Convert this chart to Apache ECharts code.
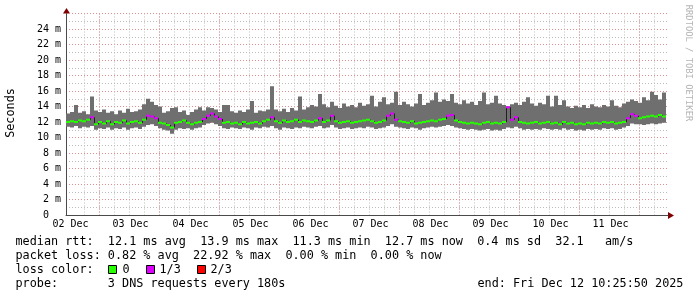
<!DOCTYPE html>
<html><head><meta charset="utf-8">
<script src="https://cdn.jsdelivr.net/npm/echarts@6/dist/echarts.min.js"></script>
<style>html,body{margin:0;padding:0;background:#fff;}#c{width:697px;height:297px;}</style>
</head><body><div id="c"></div>
<script>
// ---- data (ms; one column = 1.6 h) ----
const stepHours = 1.6;
const minVals = [
11.4,11.3,11.5,11.2,11.4,11.3,11.5,11.0,11.2,11.1,
11.3,11.0,11.2,11.1,11.3,11.0,11.2,11.3,11.1,11.4,
11.6,11.7,11.5,11.2,11.0,10.9,10.5,11.0,11.2,11.1,
11.2,11.0,11.2,11.3,11.6,11.8,11.9,11.7,11.5,11.2,
11.1,11.3,11.2,11.1,11.3,11.2,11.0,11.3,11.2,11.4,
11.3,11.5,11.2,11.0,11.3,11.2,11.1,11.3,11.2,11.4,
11.3,11.2,11.4,11.5,11.2,11.3,11.6,11.3,11.1,11.2,
11.3,11.1,11.2,11.3,11.2,11.4,11.3,11.1,11.2,11.3,
11.5,11.7,11.4,11.3,11.2,11.1,11.3,11.2,11.0,11.2,
11.3,11.4,11.3,11.4,11.5,11.6,11.5,11.3,11.2,11.1,
11.0,11.1,11.0,10.9,11.0,11.1,10.9,11.0,10.9,11.1,
11.3,11.2,11.4,11.2,11.0,11.1,11.0,11.1,11.0,11.2,
11.1,11.0,11.1,11.0,11.2,11.0,11.1,10.9,11.0,10.9,
11.1,11.0,11.1,11.0,11.2,11.1,11.2,11.0,11.1,11.3,
11.5,11.8,11.7,11.7,11.6,11.7,11.8,11.7,11.8,11.9];
const maxVals = [
13.1,13.3,14.2,13.2,13.4,13.0,15.3,13.5,13.3,13.6,
13.2,13.4,13.0,13.5,13.2,13.7,13.3,13.4,13.6,14.3,
15.0,14.6,14.2,14.0,13.2,13.4,13.8,13.9,13.3,13.5,
12.9,13.3,13.6,13.9,13.5,13.9,13.8,13.6,13.3,14.2,
14.2,13.4,13.2,13.5,13.3,13.6,14.7,13.2,13.5,13.4,
13.6,16.6,13.6,13.4,13.7,13.3,13.8,13.5,15.3,13.6,
13.9,14.2,14.0,15.6,14.3,13.9,14.6,14.1,13.8,14.4,
14.0,14.2,13.9,14.5,14.1,14.3,15.4,14.0,14.6,15.2,
14.3,14.5,15.9,14.2,14.6,14.3,14.0,14.4,15.6,14.2,
14.5,14.8,15.8,14.6,14.9,14.7,15.6,14.5,14.3,14.8,
14.4,14.6,14.2,14.7,15.8,14.3,14.5,15.4,14.4,14.2,
14.0,14.3,14.5,14.2,14.6,15.2,14.4,14.1,14.5,14.3,
15.4,14.0,15.4,14.2,14.8,14.0,13.8,14.1,13.9,14.2,
13.8,14.3,14.0,13.9,14.2,14.0,14.8,14.1,13.9,14.4,
14.6,14.9,14.7,14.5,15.2,14.8,15.9,15.5,14.9,15.8];
const medVals = [
12.0,12.1,12.0,12.2,12.1,12.3,12.6,11.7,12.0,11.8,
12.1,11.7,12.0,11.9,12.2,11.8,12.0,12.1,11.9,12.3,
12.8,12.7,12.5,11.9,11.8,11.6,11.3,11.9,12.0,12.2,
11.9,11.7,11.9,12.0,12.4,12.8,13.1,12.7,12.4,11.9,
12.0,11.8,11.9,11.7,12.0,11.8,11.9,12.0,11.8,12.1,
12.3,12.6,12.1,11.9,12.2,12.0,12.1,12.3,12.0,12.2,
12.1,12.0,12.2,12.5,12.0,12.2,12.8,12.1,11.9,12.0,
12.1,11.9,12.0,12.1,12.2,12.3,12.1,11.9,12.0,12.2,
12.8,13.1,12.3,12.1,12.0,11.9,12.1,11.8,11.9,12.0,
12.1,12.2,12.1,12.3,12.4,12.8,12.9,12.2,12.0,11.9,
11.8,11.9,11.8,11.7,11.9,12.0,11.8,11.9,11.8,12.0,
13.9,12.3,12.6,12.0,11.9,11.8,11.9,12.0,11.8,11.9,
12.0,11.8,11.9,11.7,12.0,11.8,11.9,11.7,11.8,11.7,
11.9,11.8,11.9,11.8,12.0,11.9,12.0,11.8,11.9,12.0,
12.5,13.0,12.8,12.5,12.6,12.7,12.8,12.7,12.9,12.7];
const lossVals = [
0,0,0,0,0,0,1,0,0,0,
0,0,0,0,0,0,0,0,0,0,
1,1,1,0,0,0,0,0,0,0,
0,0,0,0,1,1,1,1,1,0,
0,0,0,0,0,0,0,0,0,0,
0,1,0,0,0,0,0,0,0,0,
0,0,0,1,0,0,1,0,0,0,
0,0,0,0,0,0,0,0,0,0,
1,1,1,0,0,0,0,0,0,0,
0,0,0,0,0,1,1,0,0,0,
0,0,0,0,0,0,0,0,0,0,
1,1,1,0,0,0,0,0,0,0,
0,0,0,0,0,0,0,0,0,0,
0,0,0,0,0,0,0,0,0,0,
1,1,1,0,0,0,0,0,0,0];
const dayLabels = ['02 Dec','03 Dec','04 Dec','05 Dec','06 Dec','07 Dec','08 Dec','09 Dec','10 Dec','11 Dec'];
const yTickLabels = ['0','2 m','4 m','6 m','8 m','10 m','12 m','14 m','16 m','18 m','20 m','22 m','24 m'];
const lossLabels = ['0','1/3','2/3'];
const lossColors = ['#26ff00','#dd00ff','#ff0000'];
const yAxisTitle = 'Seconds';
const statRtt = 'median rtt:  12.1 ms avg  13.9 ms max  11.3 ms min  12.7 ms now  0.4 ms sd  32.1   am/s';
const statLoss = 'packet loss: 0.82 % avg  22.92 % max  0.00 % min  0.00 % now';
const lossColorTitle = 'loss color:';
const probeText = 'probe:       3 DNS requests every 180s';
const endText = 'end: Fri Dec 12 10:25:50 2025';
const watermark = 'RRDTOOL / TOBI OETIKER';

// ---- chart ----
const MONO = '"DejaVu Sans Mono", "Liberation Mono", monospace';
const minorColor = '#bdbdbd';
const majorColor = '#e28e8e';
const axisColor = '#4a4a4a';
const arrowColor = '#800000';
const smokeColor = '#6f6f6f';

const data = minVals.map((v, i) => [i * stepHours, v, maxVals[i], medVals[i], lossVals[i]]);

function renderItem(params, api) {
  const i = params.dataIndex;
  const t = api.value(0);
  const lo = api.value(1), hi = api.value(2), med = api.value(3), loss = api.value(4);
  const a = api.coord([t, hi]);
  const b = api.coord([t + stepHours, lo]);
  const m1 = api.coord([t, med]);
  const m2 = api.coord([t + stepHours, med]);
  const children = [{
    type: 'rect',
    shape: { x: a[0], y: a[1], width: b[0] - a[0], height: b[1] - a[1] },
    style: { fill: smokeColor }
  }];
  if (i > 0) {
    const p = api.coord([t, medVals[i - 1]]);
    children.push({ type: 'line', shape: { x1: m1[0] + 0.5, y1: p[1], x2: m1[0] + 0.5, y2: m1[1] },
      style: { stroke: '#202020', lineWidth: 1 } });
  }
  children.push({ type: 'rect', shape: { x: m1[0], y: m1[1] - 1, width: m2[0] - m1[0], height: 2 },
    style: { fill: lossColors[loss] } });
  return { type: 'group', children };
}

const chart = echarts.init(document.getElementById('c'), null, { renderer: 'canvas', width: 697, height: 297 });
const hiddenY = (g) => ({ gridIndex: g, type: 'value', min: 0, max: 1, show: false });
const dash = [1, 2];
const option = {
  animation: false,
  backgroundColor: '#ffffff',
  grid: [
    { left: 66, right: 29, top: 13.5, bottom: 82, outerBoundsMode: 'none' },
    { left: 84, right: 43, top: 13.5, bottom: 82, outerBoundsMode: 'none' },
    { left: 99, right: 58, top: 13.5, bottom: 82, outerBoundsMode: 'none' },
    { left: 70.5, right: 86.5, top: 13.5, bottom: 82, outerBoundsMode: 'none' }
  ],
  xAxis: [
    { gridIndex: 0, type: 'value', min: 0, max: 240.8,
      axisLine: { show: true, lineStyle: { color: axisColor, width: 1 } },
      axisTick: { show: false }, axisLabel: { show: false }, splitLine: { show: false } },
    { gridIndex: 1, type: 'value', min: 0, max: 228, interval: 6,
      axisLine: { show: false }, axisTick: { show: false }, axisLabel: { show: false },
      splitLine: { show: true, lineStyle: { color: minorColor, type: dash, width: 1 } } },
    { gridIndex: 2, type: 'value', min: 0, max: 216, interval: 24,
      axisLine: { show: false }, axisTick: { show: false }, axisLabel: { show: false },
      splitLine: { show: true, lineStyle: { color: majorColor, type: dash, width: 1 } } },
    { gridIndex: 3, type: 'value', min: 0, max: 216, interval: 24,
      axisLine: { show: false }, axisTick: { show: false }, splitLine: { show: false },
      axisLabel: { show: true, margin: 4.5, fontSize: 10, fontFamily: MONO, color: '#000',
        formatter: (v) => dayLabels[Math.round(v / 24)] || '' } }
  ],
  yAxis: [
    { gridIndex: 0, type: 'value', min: 0, max: 26, interval: 1, position: 'left',
      axisLine: { show: false }, axisTick: { show: false }, axisLabel: { show: false },
      splitLine: { show: true, lineStyle: { color: minorColor, type: dash, width: 1 } } },
    { gridIndex: 0, type: 'value', min: 0, max: 26, interval: 2, position: 'left',
      axisLine: { show: true, lineStyle: { color: axisColor, width: 1 } },
      axisTick: { show: false },
      axisLabel: { show: true, margin: 5, fontSize: 10, fontFamily: MONO, color: '#000',
        formatter: (v) => { const k = Math.round(v / 2); const s = yTickLabels[k]; if (s === undefined) return ''; return k === 0 ? s + '  ' : s; } },
      splitLine: { show: true, lineStyle: { color: majorColor, type: dash, width: 1 } } },
    hiddenY(1), hiddenY(2), hiddenY(3)
  ],
  series: [{
    type: 'custom', xAxisIndex: 0, yAxisIndex: 1, data: data,
    encode: { x: 0, y: [1, 2, 3] }, renderItem: renderItem, clip: true, z: 3
  }],
  graphic: []
};
chart.setOption(option);

// decorations and text block
const FS = '11.8px ';
const txt = (text, x, y, extra) => Object.assign({
  type: 'text', x: x, y: y,
  style: Object.assign({ text: text, fill: '#000', font: FS + MONO, textAlign: 'left', textVerticalAlign: 'middle', verticalAlign: 'middle' }, extra && extra.style || {})
}, extra && extra.el || {});
const org = chart.convertToPixel({ gridIndex: 0 }, [0, 0]);
const xEnd = chart.convertToPixel({ gridIndex: 0 }, [240.8, 0]);
const yTop = chart.convertToPixel({ gridIndex: 0 }, [0, 26]);
const box = (x, y, c) => ({ type: 'rect', shape: { x: x, y: y, width: 8, height: 8 }, style: { fill: c, stroke: '#000', lineWidth: 1 } });
chart.setOption({ graphic: [
  { type: 'polygon', shape: { points: [[org[0] - 3, yTop[1]], [org[0] + 4, yTop[1]], [org[0] + 0.5, yTop[1] - 5.5]] }, style: { fill: arrowColor } },
  { type: 'polygon', shape: { points: [[xEnd[0], org[1] - 3], [xEnd[0], org[1] + 4], [xEnd[0] + 6, org[1] + 0.5]] }, style: { fill: arrowColor } },
  txt(yAxisTitle, 11, 113, { style: { textAlign: 'center' }, el: { rotation: Math.PI / 2 } }),
  txt(watermark, 688, 63, { style: { textAlign: 'center', font: '8.8px ' + MONO, fill: '#b4b4b4' }, el: { rotation: -Math.PI / 2 } }),
  txt(statRtt, 15.5, 241.5),
  txt(statLoss, 15.5, 255.5),
  txt(lossColorTitle, 15.5, 269.5),
  box(108.5, 265.5, lossColors[0]), txt(lossLabels[0], 122.5, 269.5),
  box(146.5, 265.5, lossColors[1]), txt(lossLabels[1], 159.5, 269.5),
  box(197.5, 265.5, lossColors[2]), txt(lossLabels[2], 210.5, 269.5),
  txt(probeText, 15.5, 283.5),
  txt(endText, 477.5, 283.5)
] });
</script>
</body></html>
